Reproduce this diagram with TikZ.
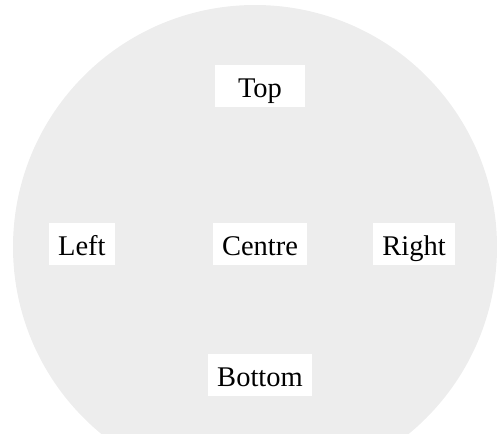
\documentclass[tikz,border=0pt]{standalone}
\usepackage{fontspec}
\setmainfont{Liberation Serif}
\usetikzlibrary{positioning}

\begin{document}
\begin{tikzpicture}[x=1pt, y=-1pt, every node/.style={font=\fontsize{28.5}{34}\selectfont}]
    \tikzstyle{place} = [rectangle, fill=white, inner xsep=9pt, inner ysep=0.5pt,
        text height=32pt, text depth=9pt]
    \useasboundingbox (0,0) rectangle (497,440);
    % grey disc, cut off at the bottom
    \begin{scope}
        \clip (0,0) rectangle (497,433);
        \fill[black!7] (255,247) circle (242pt);
    \end{scope}
    \node (centre) [place] at (260,244) {Centre};
    \node (top) [place, minimum width=90pt, above=116pt of centre] {Top};
    \node (bottom) [place, below=89pt of centre] {Bottom};
    \node (left) [place, left=98pt of centre] {Left};
    \node (right) [place, right=66pt of centre] {Right};
\end{tikzpicture}
\end{document}
